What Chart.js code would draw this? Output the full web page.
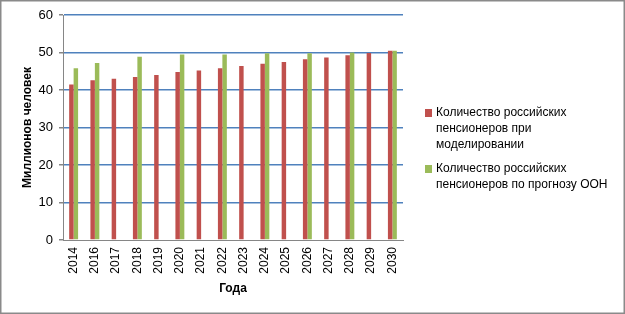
<!DOCTYPE html>
<html>
<head>
<meta charset="utf-8">
<script src="https://cdn.jsdelivr.net/npm/chart.js@4/dist/chart.umd.min.js"></script>
<style>
  html, body { margin: 0; padding: 0; background: #fff; }
  #wrap { width: 625px; height: 314px; }
</style>
</head>
<body>
<div id="wrap"><canvas id="chart" width="625" height="314"></canvas></div>
<script>
// data
const years = ['2014', '2016', '2017', '2018', '2019', '2020', '2021', '2022',
               '2023', '2024', '2025', '2026', '2027', '2028', '2029', '2030'];
const modelled = [41.5, 42.6, 43.0, 43.5, 44.0, 44.8, 45.2, 45.8,
                  46.4, 47.0, 47.5, 48.2, 48.7, 49.3, 49.9, 50.5];
const unForecast = [45.8, 47.2, null, 48.9, null, 49.5, null, 49.5,
                    null, 49.8, null, 49.8, null, 50.0, null, 50.5];
const modelledLines = ['Количество российских', 'пенсионеров при', 'моделировании'];
const unLines = ['Количество российских', 'пенсионеров по прогнозу ООН'];
const yTitle = 'Миллионов человек';
const xTitle = 'Года';

const RED = '#C0504D';
const GREEN = '#9BBB59';
const FONT = "'Liberation Sans', Arial, sans-serif";

// white background + grey frame
const framePlugin = {
    id: 'frame',
    beforeDraw(chart) {
        const ctx = chart.ctx;
        ctx.save();
        ctx.fillStyle = '#fff';
        ctx.fillRect(0, 0, chart.width, chart.height);
        ctx.restore();
    },
    afterDraw(chart) {
        const ctx = chart.ctx;
        ctx.save();
        ctx.strokeStyle = '#8a8a8a';
        ctx.lineWidth = 1.5;
        ctx.strokeRect(0.75, 0.75, chart.width - 1.5, chart.height - 1.5);
        ctx.restore();
    }
};

// legend with wrapped lines, like the original
const wrapLegend = {
    id: 'wrapLegend',
    afterDraw(chart) {
        const ctx = chart.ctx;
        const items = [
            { color: chart.data.datasets[0].backgroundColor, lines: modelledLines, y: 113 },
            { color: chart.data.datasets[1].backgroundColor, lines: unLines, y: 169 }
        ];
        ctx.save();
        ctx.font = '12px ' + FONT;
        ctx.textBaseline = 'middle';
        ctx.fillStyle = '#000';
        items.forEach(it => {
            ctx.fillStyle = it.color;
            ctx.fillRect(425, it.y - 4, 7, 8);
            ctx.fillStyle = '#000';
            it.lines.forEach((t, i) => ctx.fillText(t, 436, it.y + i * 16));
        });
        ctx.restore();
    }
};

new Chart(document.getElementById('chart'), {
    type: 'bar',
    data: {
        labels: years,
        datasets: [
            { label: modelledLines.join(' '), data: modelled, backgroundColor: RED,
              categoryPercentage: 0.42, barPercentage: 1 },
            { label: unLines.join(' '), data: unForecast, backgroundColor: GREEN,
              categoryPercentage: 0.42, barPercentage: 1 }
        ]
    },
    options: {
        responsive: false,
        animation: false,
        layout: { padding: { top: 15, right: 222, left: 0, bottom: 0 } },
        plugins: {
            legend: { display: false },
            tooltip: { enabled: false }
        },
        scales: {
            x: {
                grid: { display: false, drawTicks: false },
                border: { display: true, color: '#868686', width: 1 },
                ticks: { minRotation: 90, maxRotation: 90, padding: 7, color: '#000',
                         font: { family: FONT, size: 12 } },
                title: { display: true, text: xTitle, color: '#000',
                         font: { family: FONT, size: 12, weight: 'bold' },
                         padding: { top: 0, bottom: 18 } },
                afterFit(scale) { scale.height = 74; }
            },
            y: {
                min: 0, max: 60,
                ticks: { stepSize: 10, padding: 6, color: '#000',
                         font: { family: FONT, size: 13 } },
                grid: {
                    color: c => c.tick.value === 0 ? 'rgba(0,0,0,0)' : '#4F81BD',
                    lineWidth: 1.5,
                    tickColor: '#868686',
                    tickLength: 4
                },
                border: { display: true, color: '#868686', width: 1 },
                title: { display: true, text: yTitle, color: '#000',
                         font: { family: FONT, size: 12, weight: 'bold' },
                         padding: { top: 20, bottom: 0 } },
                afterFit(scale) { scale.width = 63; }
            }
        }
    },
    plugins: [framePlugin, wrapLegend]
});
</script>
</body>
</html>
